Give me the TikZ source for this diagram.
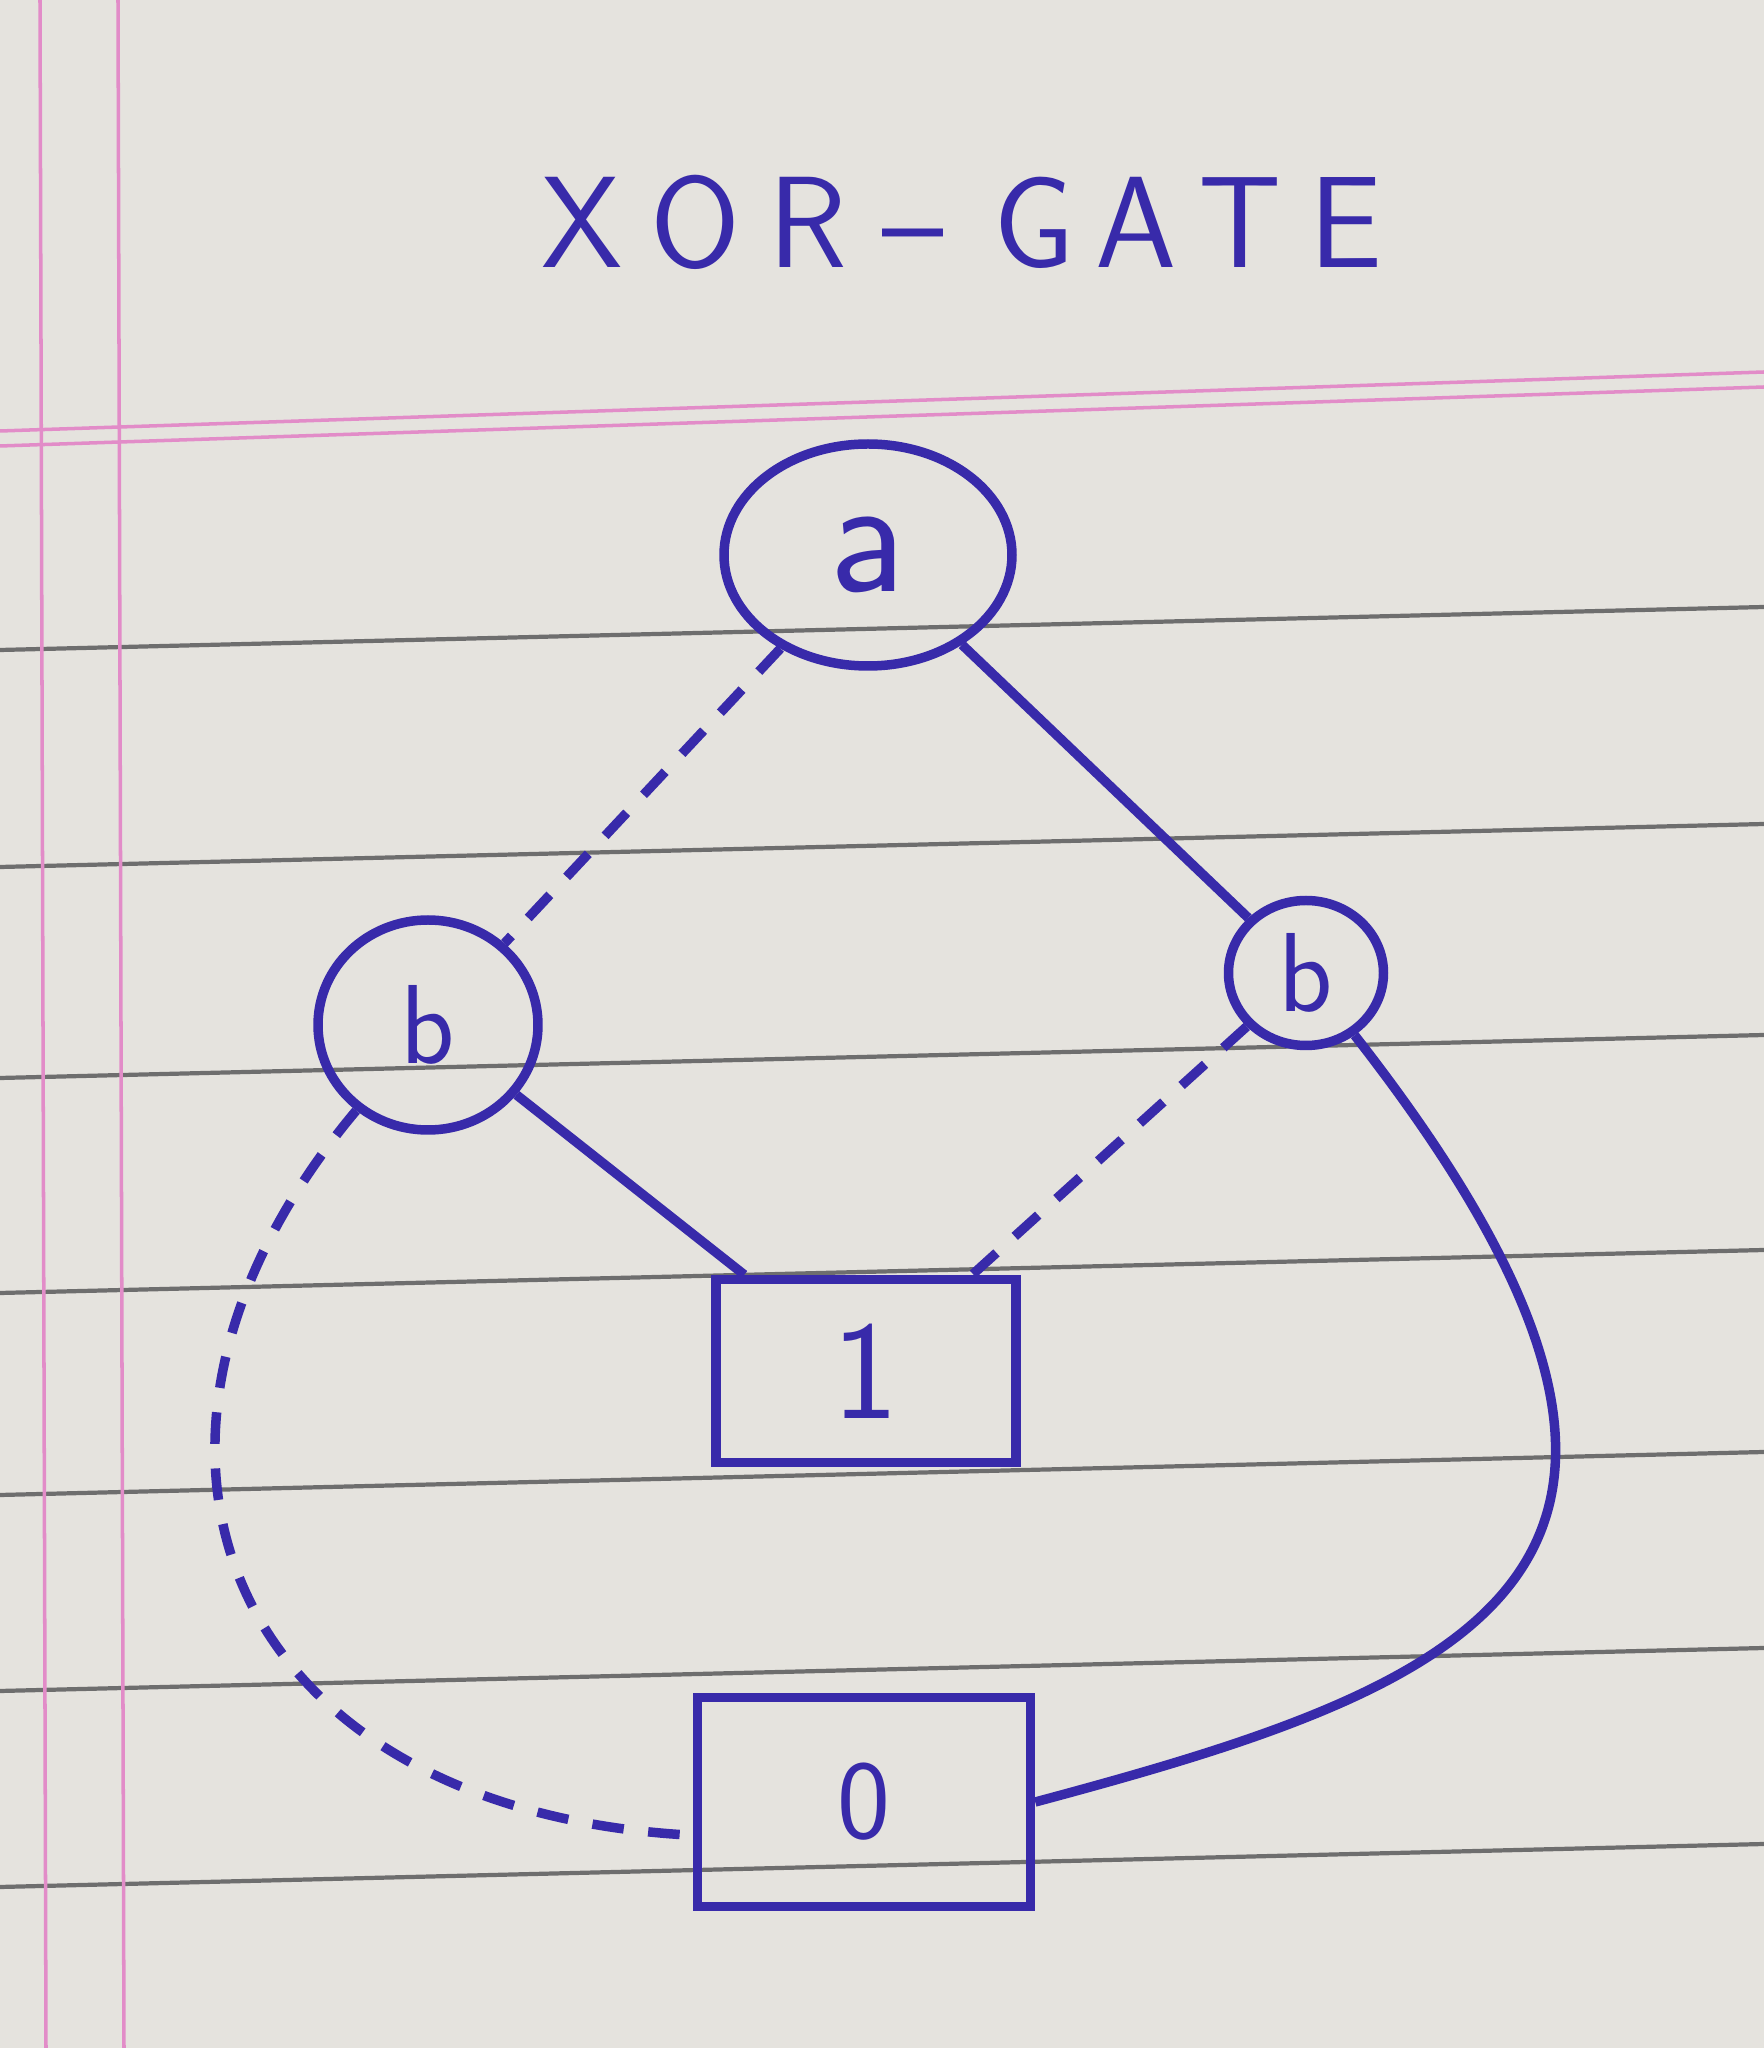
\documentclass[tikz,border=0pt]{standalone}
\usetikzlibrary{arrows,calc,positioning,shapes.geometric}
\definecolor{ink}{RGB}{56,42,170}
\definecolor{paper}{RGB}{229,227,222}
\definecolor{ruling}{RGB}{110,110,110}
\definecolor{margin}{RGB}{226,140,200}
\tikzset{
	var/.style={draw=ink, line width=2.7pt, text=ink, ellipse, inner sep=0pt, font=\sffamily\fontsize{32}{32}\selectfont},
	term/.style={draw=ink, line width=2.7pt, text=ink, rectangle, inner sep=0pt, font=\sffamily\fontsize{40}{40}\selectfont},
	hi/.style={draw=ink, line width=2.7pt},
	lo/.style={draw=ink, line width=2.7pt, dash pattern=on 9pt off 7pt},
}
\begin{document}
\begin{tikzpicture}
	% paper
	\fill[paper] (0,0) rectangle (17.64,20.48);
	\useasboundingbox (0,0) rectangle (17.64,20.48);
	\foreach \y in {13.98,11.81,9.70,7.55,5.53,3.57,1.61}
		\draw[ruling, line width=1.2pt] (0,\y) -- (17.64,\y+0.43);
	\draw[margin, line width=1pt] (0,16.17) -- (17.64,16.76);
	\draw[margin, line width=1pt] (0,16.02) -- (17.64,16.61);
	\draw[margin, line width=1pt] (0.46,0) -- (0.40,20.48);
	\draw[margin, line width=1pt] (1.24,0) -- (1.18,20.48);

	\node[text=ink, font=\sffamily\fontsize{37}{40}\selectfont] (title) at (9.62,18.26) {X\kern8pt O\kern8pt R\kern10pt --\kern14pt G\kern6pt A\kern6pt T\kern8pt E};

	% decision nodes
	\node[var, minimum width=2.88cm, minimum height=2.22cm, font=\sffamily\fontsize{48}{48}\selectfont] (a) at (8.68,14.93) {a};
	\node[var, minimum width=2.2cm, minimum height=2.1cm] (bl) at (4.28,10.23) {b};
	\node[var, minimum width=1.55cm, minimum height=1.45cm] (br) at (13.06,10.75) {b};

	% terminals
	\node[term, minimum width=3.0cm, minimum height=1.83cm] (one) at (8.66,6.77) {1};
	\node[term, minimum width=3.33cm, minimum height=2.09cm, font=\sffamily\fontsize{32}{32}\selectfont] (zero) at (8.64,2.46) {0};

	\draw[lo] (a) -- (bl);
	\draw[hi] (a) -- (br);
	\draw[hi] (bl) -- (one);
	\draw[lo] (br) -- (one);
	\draw[lo] (bl) to[out=230, in=177, out looseness=1.4, in looseness=1.5] (zero.191);
	\draw[hi] (br) to[out=-52, in=15, out looseness=2.1, in looseness=1.4] (zero.east);
\end{tikzpicture}
\end{document}
